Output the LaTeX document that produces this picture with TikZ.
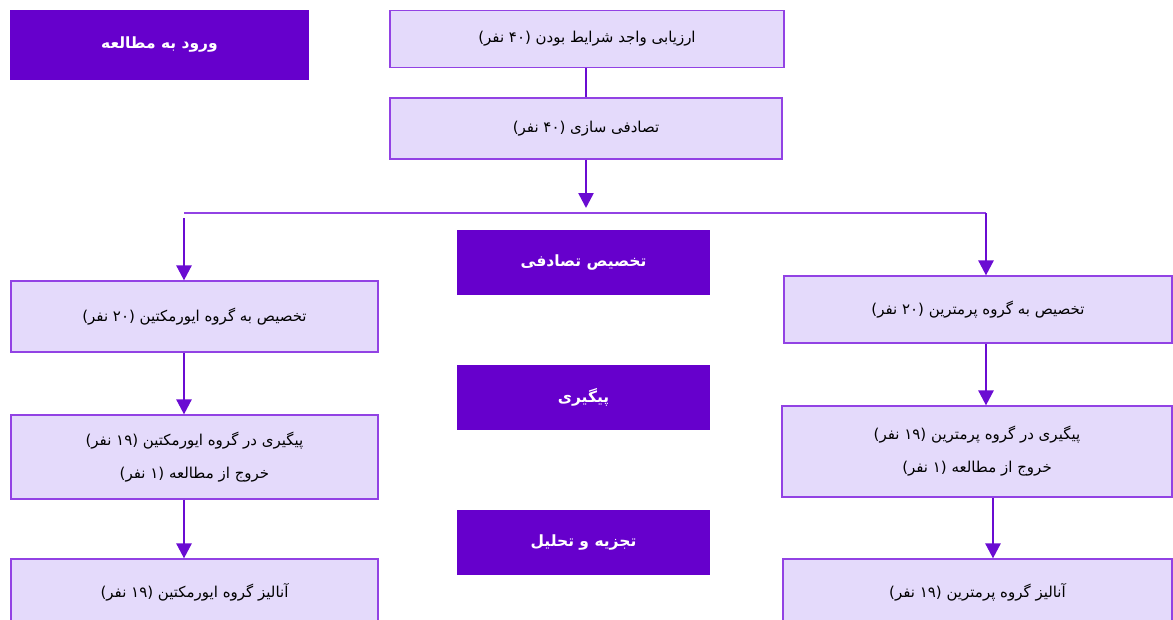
\documentclass[tikz,border=0pt]{standalone}
\usepackage{fontspec}
\usetikzlibrary{arrows.meta,calc}
\TeXXeTstate=1
\newfontfamily\farsi[Script=Arabic]{DejaVu Sans}
\definecolor{darkpurple}{RGB}{102,0,204}
\definecolor{lightpurple}{RGB}{228,218,251}
\definecolor{edgepurple}{RGB}{146,66,228}
\definecolor{arrowpurple}{RGB}{106,12,210}
\newcommand{\rl}[1]{\beginR #1\endR}

\begin{document}
\begin{tikzpicture}[x=1pt,y=-1pt,
    titlebox/.style={fill=darkpurple,text=white,font=\farsi\bfseries\fontsize{15.5}{18}\selectfont,
        minimum width=253pt,minimum height=65pt,inner sep=0pt},
    stepbox/.style={fill=lightpurple,draw=edgepurple,line width=1.2pt,
        font=\farsi\fontsize{15}{33}\selectfont,align=center,inner sep=0pt},
    flow/.style={draw=arrowpurple,line width=2.6pt,-{Triangle[length=15pt,width=15pt]}},
    link/.style={draw=edgepurple,line width=1.5pt}]
    \useasboundingbox (0,0) rectangle (1173,619);
    \clip (0,0) rectangle (1173,619);

    % titles in the middle column
    \node[titlebox,minimum width=299pt,minimum height=70pt] (entry) at (159.5,45) {\rl{ورود به مطالعه}};
    \node[titlebox] (alloc) at (583.5,262.5) {\rl{تخصیص تصادفی}};
    \node[titlebox] (follow) at (583.5,397.5) {\rl{پیگیری}};
    \node[titlebox] (analys) at (583.5,542.5) {\rl{تجزیه و تحلیل}};

    % common steps
    \node[stepbox,minimum width=394pt,minimum height=57pt] (screen) at (587,39)
        {\rl{ارزیابی واجد شرایط بودن (۴۰ نفر)}};
    \node[stepbox,minimum width=392pt,minimum height=61pt] (random) at (586,128.5)
        {\rl{تصادفی سازی (۴۰ نفر)}};

    % ivermectin arm
    \node[stepbox,minimum width=367pt,minimum height=71pt] (ivmA) at (194.5,316.5)
        {\rl{تخصیص به گروه ایورمکتین (۲۰ نفر)}};
    \node[stepbox,minimum width=367pt,minimum height=84pt] (ivmB) at (194.5,457)
        {\rl{پیگیری در گروه ایورمکتین (۱۹ نفر)}\\ \rl{خروج از مطالعه (۱ نفر)}};
    \node[stepbox,minimum width=367pt,minimum height=66pt] (ivmC) at (194.5,592)
        {\rl{آنالیز گروه ایورمکتین (۱۹ نفر)}};

    % permethrin arm
    \node[stepbox,minimum width=388pt,minimum height=67pt] (perA) at (978,309.5)
        {\rl{تخصیص به گروه پرمترین (۲۰ نفر)}};
    \node[stepbox,minimum width=390pt,minimum height=91pt] (perB) at (977,451.5)
        {\rl{پیگیری در گروه پرمترین (۱۹ نفر)}\\ \rl{خروج از مطالعه (۱ نفر)}};
    \node[stepbox,minimum width=389pt,minimum height=66pt] (perC) at (977.5,592)
        {\rl{آنالیز گروه پرمترین (۱۹ نفر)}};

    \coordinate (hub) at (586,208);
    \coordinate (branchL) at (184,213);
    \coordinate (branchR) at (986,213);

    \draw[link,draw=arrowpurple] (screen.south -| random) -- (random);
    \draw[flow] (random) -- (hub);
    \draw[link] (branchL) -- (branchR);
    \draw[flow] ($(branchL)+(0,5)$) -- (branchL |- ivmA.north);
    \draw[flow] (branchR) -- (branchR |- perA.north);
    \draw[flow] (ivmA.south -| branchL) -- (ivmB.north -| branchL);
    \draw[flow] (ivmB.south -| branchL) -- (ivmC.north -| branchL);
    \draw[flow] (perA.south -| branchR) -- (perB.north -| branchR);
    \draw[flow] ([xshift=16pt]perB.south) -- ([xshift=16pt]perB.south |- perC.north);
\end{tikzpicture}
\end{document}
